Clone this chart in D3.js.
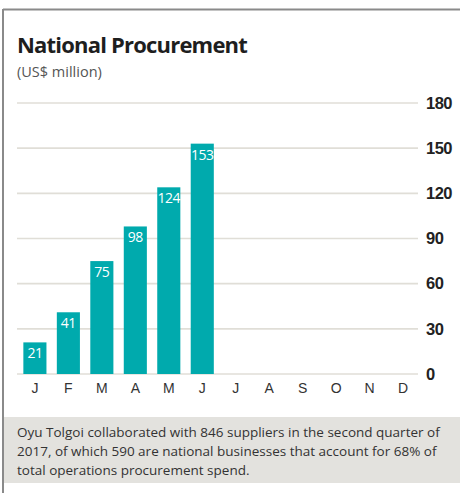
<!DOCTYPE html>
<head>
    <meta charset="utf-8">
    <title>National Procurement</title>
    <style>
        body { margin: 0; background: #fff; }
        svg { display: block; font-family: "Open Sans", sans-serif; }
    </style>
</head>
<body>
    <script src="https://d3js.org/d3.v7.min.js"></script>
    <script>
        var months = ["J", "F", "M", "A", "M", "J", "J", "A", "S", "O", "N", "D"];
        var monthKeys = ["Jan", "Feb", "Mar", "Apr", "May", "Jun", "Jul", "Aug", "Sep", "Oct", "Nov", "Dec"];
        var barMonths = ["Jan", "Feb", "Mar", "Apr", "May", "Jun"];
        var barValues = [21, 41, 75, 98, 124, 153];
        var yTicks = [0, 30, 60, 90, 120, 150, 180];
        var noteLines = [
            "Oyu Tolgoi collaborated with 846 suppliers in the second quarter of",
            "2017, of which 590 are national businesses that account for 68% of",
            "total operations procurement spend."
        ];

        var width = 460,
            height = 493;

        var svg = d3.select("body").append("svg")
            .attr("width", width)
            .attr("height", height);

        // frame: top and left rule
        svg.append("line")
            .attr("x1", 3).attr("x2", width)
            .attr("y1", 9.5).attr("y2", 9.5)
            .style("stroke", "#8a8a8a").style("stroke-width", 2);
        svg.append("line")
            .attr("x1", 3).attr("x2", 3)
            .attr("y1", 9).attr("y2", height)
            .style("stroke", "#8a8a8a").style("stroke-width", 2);

        svg.append("text")
            .attr("x", 17).attr("y", 53)
            .style("font-size", "22px").style("font-weight", "700")
            .style("fill", "#1e1e1e").style("letter-spacing", "-0.8px")
            .text("National Procurement");

        svg.append("text")
            .attr("x", 17).attr("y", 77)
            .style("font-size", "14.5px")
            .style("fill", "#555")
            .text("(US$ million)");

        var x = d3.scaleBand()
            .domain(monthKeys)
            .range([18, 420])
            .paddingInner(0.31)
            .paddingOuter(0.16);

        var y = d3.scaleLinear()
            .domain([0, 180])
            .range([374, 103]);

        // gridlines
        svg.append("g")
            .selectAll("line")
            .data(yTicks)
            .enter().append("line")
            .attr("x1", 17).attr("x2", 418)
            .attr("y1", function (d) { return y(d); })
            .attr("y2", function (d) { return y(d); })
            .style("stroke", "#e0ded7").style("stroke-width", 1.6);

        // right axis labels
        var yAxis = svg.append("g")
            .attr("transform", "translate(418,0)")
            .call(d3.axisRight(y).tickValues(yTicks).tickSize(0).tickPadding(8));
        yAxis.select(".domain").remove();
        yAxis.selectAll("text")
            .attr("font-family", null).attr("font-size", null)
            .style("font-size", "16.5px").style("font-weight", "700")
            .style("fill", "#222").style("letter-spacing", "-0.5px");

        // month axis
        var xAxis = svg.append("g")
            .attr("transform", "translate(0,374)")
            .call(d3.axisBottom(x).tickSize(0).tickPadding(9)
                .tickFormat(function (d, i) { return months[i]; }));
        xAxis.select(".domain").remove();
        xAxis.selectAll("text")
            .attr("font-family", null).attr("font-size", null)
            .style("font-size", "14px").style("fill", "#333");

        var bars = svg.append("g")
            .selectAll("g")
            .data(barValues)
            .enter().append("g");

        bars.append("rect")
            .attr("x", function (d, i) { return x(barMonths[i]); })
            .attr("y", function (d) { return y(d); })
            .attr("width", x.bandwidth())
            .attr("height", function (d) { return y(0) - y(d); })
            .style("fill", "#00aaad");

        bars.append("text")
            .attr("x", function (d, i) { return x(barMonths[i]) + x.bandwidth() / 2; })
            .attr("y", function (d) { return y(d) + 16; })
            .attr("text-anchor", "middle")
            .style("font-size", "14px").style("fill", "#fff")
            .style("letter-spacing", "-0.5px")
            .text(function (d) { return d; });

        // note box
        svg.append("rect")
            .attr("x", 4).attr("y", 417)
            .attr("width", width - 4).attr("height", 66)
            .style("fill", "#e3e2de");

        svg.append("g")
            .selectAll("text")
            .data(noteLines)
            .enter().append("text")
            .attr("x", 17)
            .attr("y", function (d, i) { return 437 + i * 19; })
            .style("font-size", "13.5px").style("fill", "#333")
            .text(function (d) { return d; });
    </script>
</body>
